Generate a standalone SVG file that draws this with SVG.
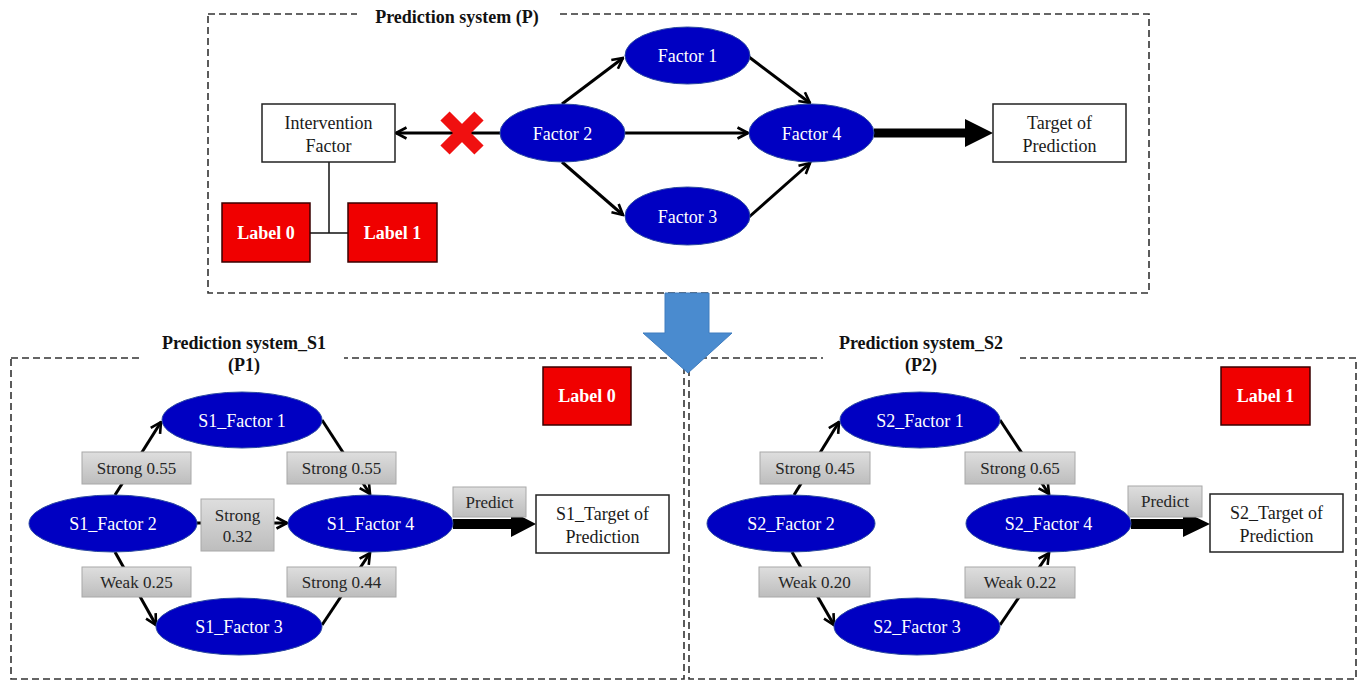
<svg xmlns="http://www.w3.org/2000/svg" width="1360" height="682" viewBox="0 0 1360 682">
<defs>
<linearGradient id="grey" x1="0" y1="0" x2="0" y2="1">
<stop offset="0" stop-color="#dedede"/>
<stop offset="1" stop-color="#bdbdbd"/>
</linearGradient>
<marker id="ah" viewBox="0 0 14 14" refX="12.5" refY="7" markerWidth="14" markerHeight="14" markerUnits="userSpaceOnUse" orient="auto">
<path d="M2,1.5 L12.5,7 L2,12.5" fill="none" stroke="#000" stroke-width="2.6"/>
</marker>
<style>
.panel{fill:none;stroke:#333;stroke-width:1.6;stroke-dasharray:7 4}
.ell{fill:#0000c2;stroke:#2c4aa0;stroke-width:1}
.et{font-family:"Liberation Serif","Times New Roman",serif;font-size:18px;fill:#fff;text-anchor:middle}
.box{fill:#fff;stroke:#222;stroke-width:1.5}
.bt{font-family:"Liberation Serif","Times New Roman",serif;font-size:18px;fill:#1a1a1a;text-anchor:middle}
.red{fill:#f00000;stroke:#3a0000;stroke-width:1.5}
.rt{font-family:"Liberation Serif","Times New Roman",serif;font-size:18px;font-weight:bold;fill:#fff;text-anchor:middle}
.ttl{font-family:"Liberation Serif","Times New Roman",serif;font-size:18px;font-weight:bold;fill:#111;text-anchor:middle}
.gl{fill:url(#grey);stroke:#a8a8a8;stroke-width:1}
.gt{font-family:"Liberation Serif","Times New Roman",serif;font-size:17px;fill:#262626;text-anchor:middle}
.ln{fill:none;stroke:#000;stroke-width:3;marker-end:url(#ah)}
.thin{fill:none;stroke:#111;stroke-width:1.5}
</style>
</defs>
<rect width="1360" height="682" fill="#fff"/>

<g id="panels">
<rect class="panel" x="208" y="14" width="941" height="279"/>
<rect x="357" y="6" width="199" height="16" fill="#fff"/>
<text class="ttl" x="457" y="23">Prediction system (P)</text>
<rect class="panel" x="11" y="358" width="673" height="321"/>
<rect x="143" y="328" width="201" height="40" fill="#fff"/>
<text class="ttl" x="244" y="349">Prediction system_S1</text>
<text class="ttl" x="244" y="371">(P1)</text>
<rect class="panel" x="689" y="358" width="667" height="321"/>
<rect x="823" y="328" width="197" height="40" fill="#fff"/>
<text class="ttl" x="921" y="349">Prediction system_S2</text>
<text class="ttl" x="921" y="371">(P2)</text>
</g>

<g id="connectors">
<line class="ln" x1="500" y1="133" x2="396" y2="133"/>
<line class="ln" x1="562" y1="104" x2="623" y2="58"/>
<line class="ln" x1="562" y1="162" x2="623" y2="215"/>
<line class="ln" x1="625" y1="133" x2="748" y2="133"/>
<line class="ln" x1="749" y1="57" x2="810" y2="103"/>
<line class="ln" x1="749" y1="217" x2="810" y2="163"/>
<polygon points="874,128.5 965,128.5 965,119 993,133 965,147 965,137.5 874,137.5" fill="#000"/>
<polyline class="thin" points="329,162 329,233"/>
<line class="thin" x1="310" y1="233" x2="348" y2="233"/>
<path d="M445,116 L479,150 M479,116 L445,150" stroke="#f01010" stroke-width="13" fill="none"/>

<line class="ln" x1="115" y1="495" x2="161" y2="422"/>
<line class="ln" x1="322" y1="420" x2="370" y2="494"/>
<line class="ln" x1="196" y1="523" x2="287" y2="523"/>
<line class="ln" x1="115" y1="552" x2="156" y2="625"/>
<line class="ln" x1="322" y1="625" x2="370" y2="553"/>
<polygon points="453,519 511,519 511,511 536,524 511,537 511,529 453,529" fill="#000"/>

<line class="ln" x1="794" y1="495" x2="839" y2="422"/>
<line class="ln" x1="1000" y1="420" x2="1049" y2="494"/>
<line class="ln" x1="792" y1="552" x2="834" y2="625"/>
<line class="ln" x1="1000" y1="625" x2="1049" y2="553"/>
<polygon points="1131,519 1183,519 1183,511 1210,524 1183,537 1183,529 1131,529" fill="#000"/>

<rect class="gl" x="82" y="452" width="109" height="32"/>
<text class="gt" x="136.5" y="474">Strong 0.55</text>
<rect class="gl" x="287" y="452" width="109" height="32"/>
<text class="gt" x="341.5" y="474">Strong 0.55</text>
<rect class="gl" x="201" y="499" width="73" height="52"/>
<text class="gt" x="237.5" y="521">Strong</text>
<text class="gt" x="237.5" y="542">0.32</text>
<rect class="gl" x="82" y="567" width="109" height="30"/>
<text class="gt" x="136.5" y="588">Weak 0.25</text>
<rect class="gl" x="287" y="567" width="109" height="30"/>
<text class="gt" x="341.5" y="588">Strong 0.44</text>
<rect class="gl" x="453" y="487" width="73" height="30"/>
<text class="gt" x="489.5" y="508">Predict</text>

<rect class="gl" x="760" y="452" width="110" height="32"/>
<text class="gt" x="815" y="474">Strong 0.45</text>
<rect class="gl" x="965" y="452" width="110" height="32"/>
<text class="gt" x="1020" y="474">Strong 0.65</text>
<rect class="gl" x="759" y="567" width="111" height="30"/>
<text class="gt" x="814.5" y="588">Weak 0.20</text>
<rect class="gl" x="965" y="567" width="110" height="31"/>
<text class="gt" x="1020" y="588">Weak 0.22</text>
<rect class="gl" x="1128" y="486" width="74" height="31"/>
<text class="gt" x="1165" y="507">Predict</text>
</g>

<g id="intervention">
<rect class="box" x="262" y="104" width="133" height="58"/>
<text class="bt" x="328.5" y="129">Intervention</text>
<text class="bt" x="328.5" y="152">Factor</text>
</g>
<g id="label0-top"><rect class="red" x="222" y="203" width="88" height="59"/><text class="rt" x="266" y="239">Label 0</text></g>
<g id="label1-top"><rect class="red" x="348" y="203" width="89" height="59"/><text class="rt" x="392.5" y="239">Label 1</text></g>
<g id="factor1"><ellipse class="ell" cx="687.5" cy="55.5" rx="62.5" ry="28.5"/><text class="et" x="687.5" y="62">Factor 1</text></g>
<g id="factor2"><ellipse class="ell" cx="562.5" cy="133" rx="62.5" ry="29"/><text class="et" x="562.5" y="139.5">Factor 2</text></g>
<g id="factor3"><ellipse class="ell" cx="687.5" cy="216" rx="62.5" ry="29"/><text class="et" x="687.5" y="222.5">Factor 3</text></g>
<g id="factor4"><ellipse class="ell" cx="811.5" cy="133" rx="62.5" ry="29"/><text class="et" x="811.5" y="139.5">Factor 4</text></g>
<g id="target"><rect class="box" x="993" y="104" width="133" height="58"/><text class="bt" x="1059.5" y="129">Target of</text><text class="bt" x="1059.5" y="152">Prediction</text></g>

<g id="s1-label0"><rect class="red" x="543" y="367" width="88" height="58"/><text class="rt" x="587" y="402">Label 0</text></g>
<g id="s1-factor1"><ellipse class="ell" cx="242" cy="420" rx="80" ry="28"/><text class="et" x="242" y="426.5">S1_Factor 1</text></g>
<g id="s1-factor2"><ellipse class="ell" cx="113" cy="523.5" rx="84" ry="28.5"/><text class="et" x="113" y="530">S1_Factor 2</text></g>
<g id="s1-factor3"><ellipse class="ell" cx="239" cy="626.5" rx="83" ry="28.5"/><text class="et" x="239" y="633">S1_Factor 3</text></g>
<g id="s1-factor4"><ellipse class="ell" cx="370.5" cy="523.5" rx="82.5" ry="28.5"/><text class="et" x="370.5" y="530">S1_Factor 4</text></g>
<g id="s1-target"><rect class="box" x="536" y="495" width="133" height="58"/><text class="bt" x="602.5" y="520">S1_Target of</text><text class="bt" x="602.5" y="543">Prediction</text></g>

<g id="s2-label1"><rect class="red" x="1221" y="367" width="89" height="58"/><text class="rt" x="1265.5" y="402">Label 1</text></g>
<g id="s2-factor1"><ellipse class="ell" cx="920" cy="420" rx="80" ry="28"/><text class="et" x="920" y="426.5">S2_Factor 1</text></g>
<g id="s2-factor2"><ellipse class="ell" cx="791" cy="523.5" rx="84" ry="28.5"/><text class="et" x="791" y="530">S2_Factor 2</text></g>
<g id="s2-factor3"><ellipse class="ell" cx="917" cy="626.5" rx="83" ry="28.5"/><text class="et" x="917" y="633">S2_Factor 3</text></g>
<g id="s2-factor4"><ellipse class="ell" cx="1048.5" cy="523.5" rx="82.5" ry="28.5"/><text class="et" x="1048.5" y="530">S2_Factor 4</text></g>
<g id="s2-target"><rect class="box" x="1210" y="494" width="133" height="58"/><text class="bt" x="1276.5" y="519">S2_Target of</text><text class="bt" x="1276.5" y="542">Prediction</text></g>

<g id="down-arrow">
<polygon points="665,293 709,293 709,333 732,333 688,373 643,333 665,333" fill="#4a8bcf" stroke="#3e7cbf" stroke-width="1"/>
</g>
</svg>
